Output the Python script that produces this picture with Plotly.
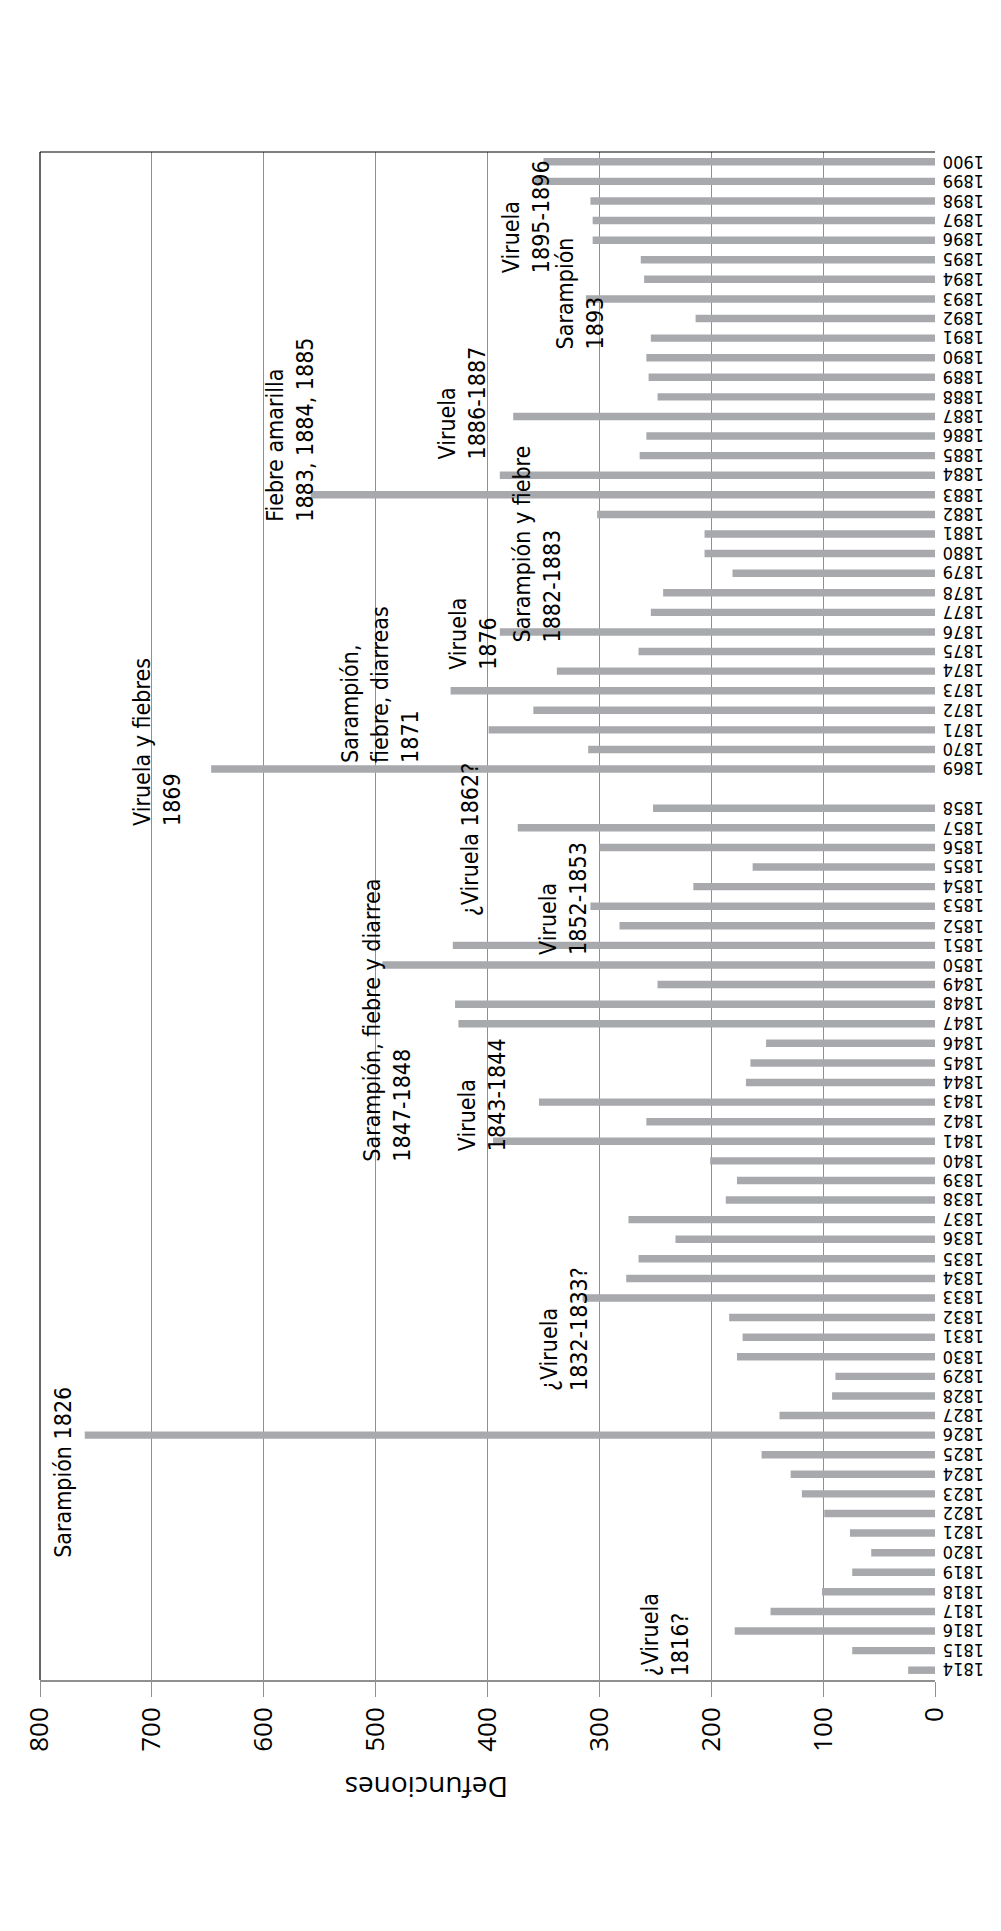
import plotly.graph_objects as go

# años (con un hueco entre 1858 y 1869) y defunciones
years = [str(y) for y in range(1814, 1859)] + [" "] + [str(y) for y in range(1869, 1901)]
deaths = [
    24, 74, 179, 147, 101, 74, 57, 76, 99, 119,
    129, 155, 760, 139, 92, 89, 177, 172, 184, 315,
    276, 265, 232, 274, 187, 177, 201, 395, 258, 354,
    169, 165, 151, 426, 429, 248, 494, 431, 282, 308,
    216, 163, 300, 373, 252,
    None,
    647, 310, 399, 359, 433, 338, 265, 389, 254, 243,
    181, 206, 206, 302, 558, 389, 264, 258, 377, 248,
    256, 258, 254, 214, 312, 260, 263, 306, 306, 308,
    358, 350,
]
x_ticks = [0, 100, 200, 300, 400, 500, 600, 700, 800]

# epidemias: texto, defunciones, posición en el eje de años
epidemics = [
    ("¿Viruela<br>1816?", 241, 1.8),
    ("Sarampión 1826", 779, 10.1),
    ("¿Viruela<br>1832-1833?", 331, 17.4),
    ("Viruela<br>1843-1844", 405, 29.4),
    ("Sarampión, fiebre y diarrea<br>1847-1848", 490, 33.2),
    ("Viruela<br>1852-1853", 332, 39.4),
    ("¿Viruela 1862?", 416, 42.4),
    ("Viruela y fiebres<br>1869", 696, 47.4),
    ("Sarampión,<br>fiebre, diarreas<br>1871", 496, 50.3),
    ("Viruela<br>1876", 413, 52.9),
    ("Sarampión y fiebre<br>1882-1883", 356, 57.5),
    ("Fiebre amarilla<br>1883, 1884, 1885", 576, 63.3),
    ("Viruela<br>1886-1887", 423, 64.7),
    ("Sarampión<br>1893", 317, 70.3),
    ("Viruela<br>1895-1896", 366, 74.2),
]

NARROW = "Liberation Sans Narrow, Arial Narrow, DejaVu Sans Condensed, sans-serif"
GRID = "#8f8f8f"

fig = go.Figure(go.Bar(
    x=deaths, y=years, orientation="h",
    marker=dict(color="#a7a9ac", line=dict(width=0)),
))

for text, xv, yv in epidemics:
    fig.add_annotation(
        x=xv, y=yv, xref="x", yref="y", text=text, showarrow=False,
        textangle=-90, align="left", xanchor="center", yanchor="middle",
        font=dict(family=NARROW, size=23, color="black"))

# etiquetas de año, giradas 180 grados, a la derecha del eje
for i, yr in enumerate(years):
    if yr.strip():
        fig.add_annotation(
            x=1, y=i, xref="paper", yref="y", text=yr, showarrow=False,
            textangle=180, xanchor="left", yanchor="middle", xshift=7,
            borderpad=0,
            font=dict(family=NARROW, size=18, color="black"))

fig.add_annotation(
    x=455, y=-0.0707, xref="x", yref="paper", text="Defunciones",
    showarrow=False, textangle=180, xanchor="center", yanchor="middle",
    font=dict(family="Open Sans", size=28, color="black"))

# marco superior e izquierdo en negro
fig.add_shape(type="line", xref="paper", yref="paper", x0=0, x1=1, y0=1, y1=1,
              line=dict(color="black", width=1.2))
fig.add_shape(type="line", xref="paper", yref="paper", x0=0, x1=0, y0=0, y1=1,
              line=dict(color="black", width=1.2))

fig.update_layout(
    width=1001, height=1931,
    margin=dict(l=28, r=74, t=144, b=259),
    plot_bgcolor="white", paper_bgcolor="white",
    bargap=0.62, showlegend=False,
    xaxis=dict(
        range=[800, 0], tickvals=x_ticks, tickangle=-90,
        tickfont=dict(family="Open Sans", size=26, color="black"),
        showgrid=True, gridcolor=GRID, gridwidth=1,
        ticks="outside", ticklen=15, tickcolor=GRID,
        showline=True, linecolor=GRID, linewidth=1.5, zeroline=False,
    ),
    yaxis=dict(
        type="category", categoryorder="array", categoryarray=years,
        range=[-0.5, len(years) - 0.5], autorange=False,
        side="right", showticklabels=False, showgrid=False, ticks="",
        showline=False, zeroline=False,
    ),
)

fig.write_html("out.html")
